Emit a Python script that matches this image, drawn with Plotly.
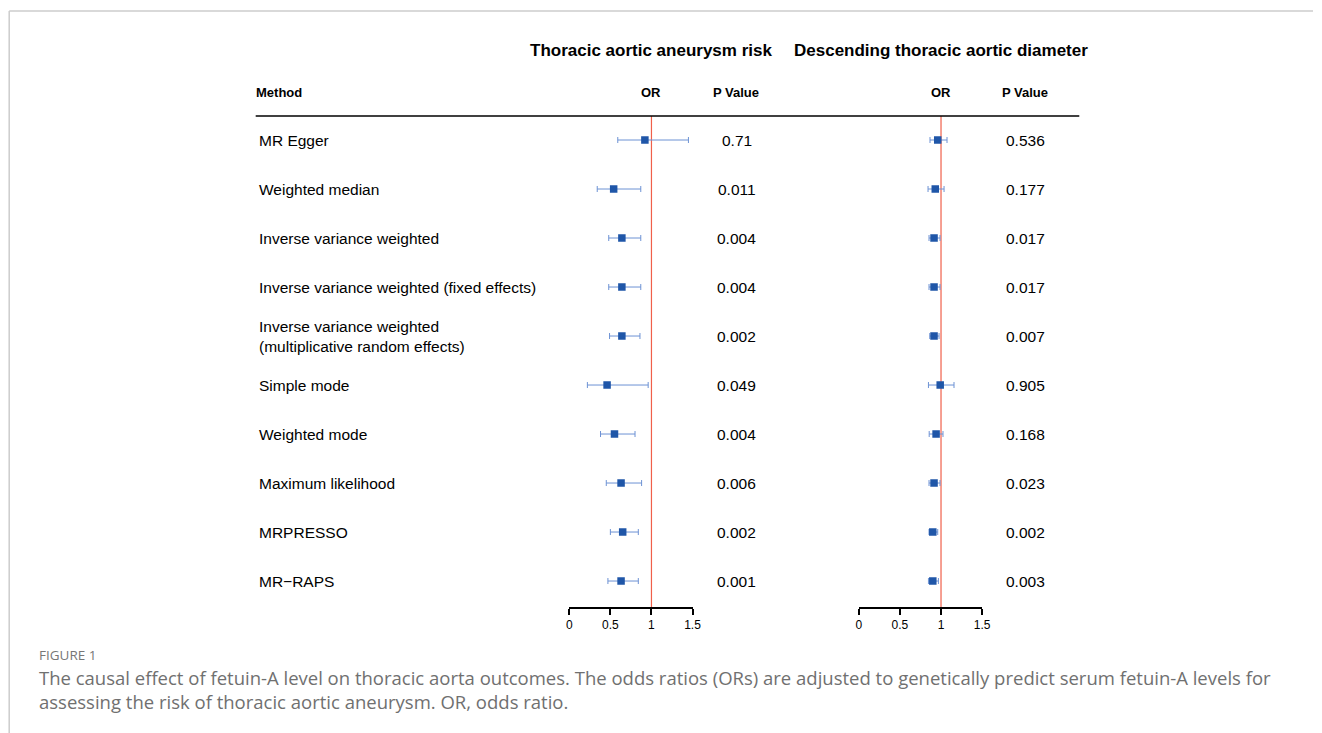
import plotly.graph_objects as go

methods = ["MR Egger", "Weighted median", "Inverse variance weighted",
           "Inverse variance weighted (fixed effects)",
           "Inverse variance weighted<br>(multiplicative random effects)",
           "Simple mode", "Weighted mode", "Maximum likelihood", "MRPRESSO", "MR\u2212RAPS"]

# Panel 1: Thoracic aortic aneurysm risk
or1 = [0.92, 0.54, 0.64, 0.64, 0.64, 0.46, 0.55, 0.63, 0.65, 0.63]
lo1 = [0.59, 0.34, 0.48, 0.48, 0.49, 0.22, 0.38, 0.45, 0.50, 0.47]
hi1 = [1.45, 0.87, 0.87, 0.87, 0.86, 0.96, 0.80, 0.88, 0.84, 0.84]
p1 = ["0.71", "0.011", "0.004", "0.004", "0.002", "0.049", "0.004", "0.006", "0.002", "0.001"]

# Panel 2: Descending thoracic aortic diameter
or2 = [0.96, 0.93, 0.915, 0.915, 0.915, 0.99, 0.94, 0.915, 0.90, 0.90]
lo2 = [0.866, 0.842, 0.854, 0.854, 0.863, 0.847, 0.856, 0.854, 0.854, 0.847]
hi2 = [1.073, 1.037, 0.988, 0.988, 0.976, 1.158, 1.024, 0.988, 0.96, 0.968]
p2 = ["0.536", "0.177", "0.017", "0.017", "0.007", "0.905", "0.168", "0.023", "0.002", "0.003"]

titles = ["Thoracic aortic aneurysm risk", "Descending thoracic aortic diameter"]
tick_vals = [0, 0.5, 1, 1.5]
tick_text = ["0", "0.5", "1", "1.5"]
caption_label = "FIGURE 1"
caption_text = ("The causal effect of fetuin-A level on thoracic aorta outcomes. The odds ratios (ORs) are adjusted to genetically predict serum fetuin-A levels for"
                "<br>assessing the risk of thoracic aortic aneurysm. OR, odds ratio.")

W, H = 1322, 733
FONT = "Liberation Sans, Arial, sans-serif"
MARK = "#1f56a8"
ERR = "#6d92d4"
rows = list(range(len(methods)))

# horizontal placement correction (observed rendering offset/scale)
X_OFF, X_SCALE = 3.8, 0.989

def px(x):
    return ((x - X_OFF) / X_SCALE) / W

def py(y):
    return 1 - y / H

fig = go.Figure()
for k, (orv, lo, hi, xa) in enumerate([(or1, lo1, hi1, "x"), (or2, lo2, hi2, "x2")]):
    fig.add_trace(go.Scatter(
        x=orv, y=rows, xaxis=xa, yaxis="y", mode="markers",
        marker=dict(symbol="square", size=7.5, color=MARK),
        error_x=dict(type="data", symmetric=False,
                     array=[h - o for h, o in zip(hi, orv)],
                     arrayminus=[o - l for o, l in zip(orv, lo)],
                     color=ERR, thickness=1, width=3),
        showlegend=False, hoverinfo="skip"))

axis_common = dict(range=[0, 1.5], tickvals=tick_vals, ticktext=tick_text,
                   showline=True, linecolor="black", linewidth=1.5,
                   ticks="outside", ticklen=6, tickwidth=1.5, tickcolor="black",
                   showgrid=False, zeroline=False, anchor="y",
                   tickfont=dict(family=FONT, size=12, color="black"))

fig.update_layout(
    width=W, height=H, autosize=False, margin=dict(l=0, r=0, t=0, b=0),
    paper_bgcolor="white", plot_bgcolor="white",
    xaxis=dict(domain=[px(569), px(692)], **axis_common),
    xaxis2=dict(domain=[px(858), px(981)], **axis_common),
    yaxis=dict(domain=[py(607), py(116)], range=[9.53, -0.49],
               visible=False, showgrid=False, zeroline=False),
)

shapes = []
for xr in ["x", "x2"]:
    shapes.append(dict(type="line", xref=xr, yref="y domain", x0=1, x1=1, y0=0, y1=1,
                       line=dict(color="#f0604a", width=1.2), layer="below"))
shapes.append(dict(type="line", xref="paper", yref="paper", x0=px(256), x1=px(1078),
                   y0=py(116), y1=py(116), line=dict(color="black", width=1.5)))
shapes.append(dict(type="line", xref="paper", yref="paper", x0=px(10), x1=1,
                   y0=py(11), y1=py(11), line=dict(color="#cccccc", width=1.5)))
shapes.append(dict(type="line", xref="paper", yref="paper", x0=px(10), x1=px(10),
                   y0=py(11), y1=0, line=dict(color="#cccccc", width=1.5)))
fig.update_layout(shapes=shapes)

def A(**kw):
    d = dict(showarrow=False, borderpad=0, borderwidth=0)
    d.update(kw)
    return d

ann = []
for cx, t in zip([651, 940], titles):
    ann.append(A(x=px(cx), y=py(50), xref="paper", yref="paper", text="<b>%s</b>" % t,
                 xanchor="center", yanchor="middle",
                 font=dict(family=FONT, size=17, color="black")))
ann.append(A(x=px(256), y=py(92), xref="paper", yref="paper", text="<b>Method</b>",
             xanchor="left", yanchor="middle",
             font=dict(family=FONT, size=13, color="black")))
for ox, pxv in [(651, 735), (940, 1024)]:
    ann.append(A(x=px(ox), y=py(92), xref="paper", yref="paper", text="<b>OR</b>",
                 xanchor="center", yanchor="middle",
                 font=dict(family=FONT, size=13, color="black")))
    ann.append(A(x=px(pxv), y=py(92), xref="paper", yref="paper", text="<b>P Value</b>",
                 xanchor="center", yanchor="middle",
                 font=dict(family=FONT, size=13, color="black")))
for i, m in enumerate(methods):
    ann.append(A(x=px(259), y=i, xref="paper", yref="y", text=m, align="left",
                 xanchor="left", yanchor="middle",
                 font=dict(family=FONT, size=15.5, color="black")))
    ann.append(A(x=px(736), y=i, xref="paper", yref="y", text=p1[i],
                 xanchor="center", yanchor="middle",
                 font=dict(family=FONT, size=15.5, color="black")))
    ann.append(A(x=px(1024), y=i, xref="paper", yref="y", text=p2[i],
                 xanchor="center", yanchor="middle",
                 font=dict(family=FONT, size=15.5, color="black")))
CAP = "Open Sans, Noto Sans, sans-serif"
ann.append(A(x=px(40), y=py(655), xref="paper", yref="paper", text=caption_label,
             xanchor="left", yanchor="middle",
             font=dict(family=CAP, size=13.5, color="#777777")))
ann.append(A(x=px(40), y=py(689), xref="paper", yref="paper", text=caption_text,
             align="left", xanchor="left", yanchor="middle",
             font=dict(family=CAP, size=18.5, color="#707070")))
fig.update_layout(annotations=ann)

fig.write_html("out.html", config={"displayModeBar": False, "responsive": False},
               post_script="document.body.style.margin='0';document.body.style.overflow='hidden';")
